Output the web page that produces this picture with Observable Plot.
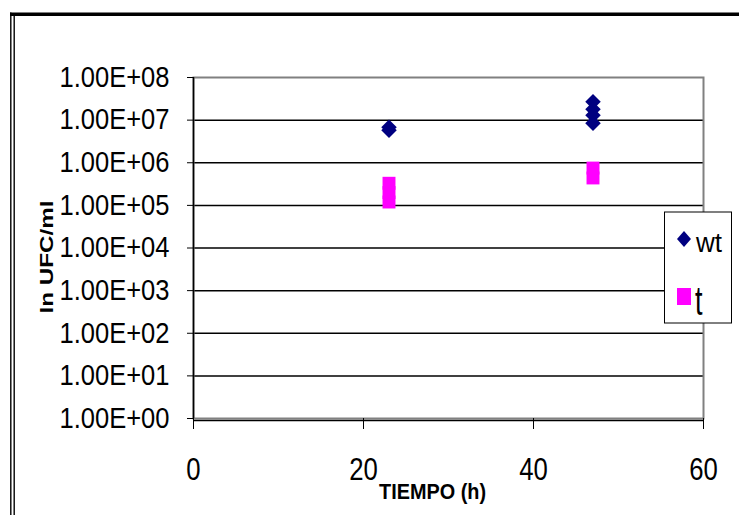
<!DOCTYPE html>
<html><head><meta charset="utf-8">
<script src="https://cdn.jsdelivr.net/npm/d3@7"></script>
<script src="https://cdn.jsdelivr.net/npm/@observablehq/plot@0.6"></script>
<style>
body{margin:0;background:#fff;}
#chart{width:739px;height:515px;}
</style>
</head><body><div id="chart"></div>
<script>
// ---- data ----
const wtTime = [23, 23, 47, 47, 47, 47];
const wtUfc  = [6.8e6, 5.8e6, 2.7e7, 1.8e7, 1.3e7, 8.5e6];
const tTime  = [23, 23, 23, 47, 47];
const tUfc   = [3.3e5, 2.0e5, 1.2e5, 7.5e5, 4.4e5];
const seriesNames  = ["wt", "t"];
const seriesColors = ["#000080", "#ff00ff"];
const xTicks = [0, 20, 40, 60];
const yTicks = [1, 10, 100, 1e3, 1e4, 1e5, 1e6, 1e7, 1e8];
const yTickLabels = ["1.00E+00","1.00E+01","1.00E+02","1.00E+03","1.00E+04","1.00E+05","1.00E+06","1.00E+07","1.00E+08"];
const xTitle = "TIEMPO (h)";
const yTitle = "ln UFC/ml";

const wtData = wtTime.map((x, i) => ({x, y: wtUfc[i]}));
const tData  = tTime.map((x, i) => ({x, y: tUfc[i]}));

const plot = Plot.plot({
  width: 739,
  height: 515,
  marginLeft: 193,
  marginRight: 36,
  marginTop: 77,
  marginBottom: 97,
  style: {fontFamily: "'Liberation Sans', Arial, sans-serif", color: "black", background: "white", overflow: "visible"},
  x: {domain: [0, 60]},
  y: {type: "log", domain: [1, 1e8]},
  marks: [
    Plot.ruleY(yTicks.slice(1, -1), {stroke: "black", strokeWidth: 1.5}),
    Plot.frame({stroke: "#808080", strokeWidth: 2}),
    Plot.ruleX([0], {stroke: "black", strokeWidth: 1.5}),
    Plot.ruleY([1], {stroke: "black", strokeWidth: 1.5, dy: 2}),
    Plot.axisY({ticks: yTicks, tickFormat: d => yTickLabels[Math.round(Math.log10(d))], tickSize: 6, tickPadding: 18, fontSize: 29, label: null}),
    Plot.axisX({ticks: xTicks, tickSize: 11, tickPadding: 28, fontSize: 31, label: null}),
    Plot.dot(tData, {x: "x", y: "y", symbol: "square", r: 7.3, fill: seriesColors[1], stroke: "none"}),
    Plot.dot(wtData, {x: "x", y: "y", symbol: "diamond2", r: 7, fill: seriesColors[0], stroke: "none"})
  ]
});
document.getElementById("chart").appendChild(plot);

// condensed tick labels
plot.querySelectorAll('[aria-label="y-axis tick label"] text').forEach(t => {
  t.setAttribute("textLength", 110);
  t.setAttribute("lengthAdjust", "spacingAndGlyphs");
});
plot.querySelectorAll('[aria-label="x-axis tick label"] text').forEach(t => {
  t.setAttribute("textLength", t.textContent.length * 14.3);
  t.setAttribute("lengthAdjust", "spacingAndGlyphs");
});

const svg = d3.select(plot);
const ff = "'Liberation Sans', Arial, sans-serif";

// outer chart border (top thick line, left double line)
svg.append("line").attr("x1", 10).attr("x2", 739).attr("y1", 14.3).attr("y2", 14.3)
  .attr("stroke", "black").attr("stroke-width", 3.5);
svg.append("line").attr("x1", 10.8).attr("x2", 10.8).attr("y1", 12.6).attr("y2", 515)
  .attr("stroke", "black").attr("stroke-width", 1.4);
svg.append("line").attr("x1", 14.2).attr("x2", 14.2).attr("y1", 16).attr("y2", 515)
  .attr("stroke", "black").attr("stroke-width", 1.4);

// axis titles
svg.append("text").attr("transform", "translate(53,257) rotate(-90)")
  .attr("text-anchor", "middle").attr("font-family", ff).attr("font-size", 19).attr("font-weight", "bold")
  .attr("textLength", 113).attr("lengthAdjust", "spacingAndGlyphs").attr("fill", "black").text(yTitle);
svg.append("text").attr("x", 432.5).attr("y", 499)
  .attr("text-anchor", "middle").attr("font-family", ff).attr("font-size", 22).attr("font-weight", "bold")
  .attr("textLength", 107).attr("lengthAdjust", "spacingAndGlyphs").attr("fill", "black").text(xTitle);

// legend
const lg = svg.append("g").attr("text-anchor", "start");
lg.append("rect").attr("x", 664.5).attr("y", 212).attr("width", 67).attr("height", 111)
  .attr("fill", "white").attr("stroke", "black").attr("stroke-width", 1);
lg.append("path").attr("d", "M677,239L684,231L691,239L684,247Z").attr("fill", seriesColors[0]);
lg.append("text").attr("x", 696).attr("y", 252).attr("text-anchor", "start").attr("font-family", ff).attr("font-size", 27)
  .attr("textLength", 26).attr("lengthAdjust", "spacingAndGlyphs").attr("fill", "black").text(seriesNames[0]);
lg.append("rect").attr("x", 677).attr("y", 288).attr("width", 14).attr("height", 17).attr("fill", seriesColors[1]);
lg.append("text").attr("transform", "translate(695,315) scale(1,1.5)").attr("text-anchor", "start").attr("font-family", ff).attr("font-size", 27)
  .attr("fill", "black").text(seriesNames[1]);
</script>
</body></html>
